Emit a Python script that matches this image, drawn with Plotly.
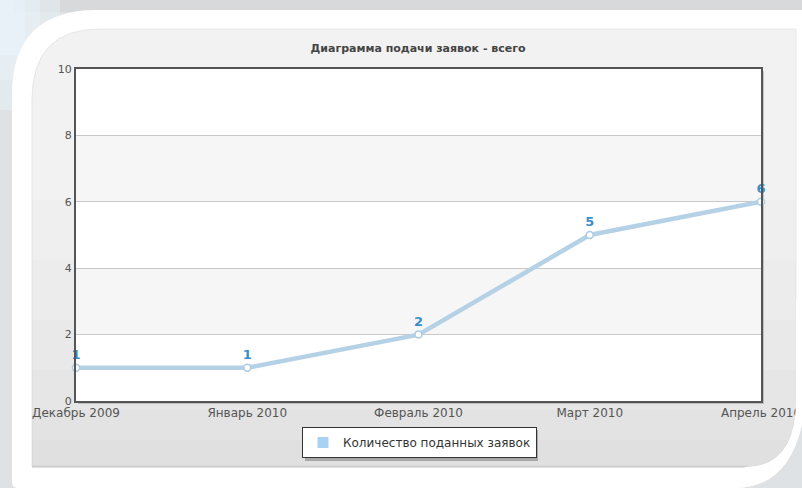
import plotly.graph_objects as go

# ---- data ----
categories = ["Декабрь 2009", "Январь 2010", "Февраль 2010", "Март 2010", "Апрель 2010"]
values = [1, 1, 2, 5, 6]
series_name = "Количество поданных заявок"
title_text = "Диаграмма подачи заявок - всего"
y_ticks = [0, 2, 4, 6, 8, 10]

W, H = 802, 488
L, R, T, B = 76, 41, 69, 87
PW, PH = W - L - R, H - T - B


def px(x):
    return (x - L) / PW


def py(y):
    return (H - B - y) / PH


def rpath(cmds):
    out = []
    for c in cmds:
        op, pts = c[0], c[1:]
        out.append(op + " " + " ".join(f"{px(a):.5f},{py(b):.5f}" for a, b in pts))
    return " ".join(out) + " Z"


shapes = []
# outer top strip / left strip
shapes.append(dict(type="rect", xref="paper", yref="paper", x0=px(0), x1=px(W), y0=py(0), y1=py(12),
                   fillcolor="#d8d9da", line_width=0, layer="below"))
shapes.append(dict(type="rect", xref="paper", yref="paper", x0=px(0), x1=px(14), y0=py(0), y1=py(H),
                   fillcolor="#dfe2e4", line_width=0, layer="below"))
for w_, h_ in [(60, 110), (40, 80), (25, 55)]:
    shapes.append(dict(type="rect", xref="paper", yref="paper", x0=px(0), x1=px(w_), y0=py(0), y1=py(h_),
                       fillcolor="rgba(232,243,250,0.45)", line_width=0, layer="below"))
# white rounded panel
shapes.append(dict(type="path", xref="paper", yref="paper", layer="below", fillcolor="#ffffff", line_width=0,
                   path=rpath([("M", (12, 95)), ("Q", (12, 10), (97, 10)), ("L", (W + 5, 10)),
                               ("L", (W + 5, 390)), ("Q", (800, 488), (735, 488)),
                               ("L", (18, 488)), ("Q", (12, 488), (12, 482))])))
# inner gray panel
inner = [("M", (32, 100)), ("Q", (32, 29), (100, 29)), ("L", (796, 29)),
         ("L", (796, 400)), ("Q", (796, 467), (745, 467)), ("L", (32, 467))]
shapes.append(dict(type="path", xref="paper", yref="paper", layer="below", fillcolor="#f2f2f2",
                   line=dict(color="#e6e6e6", width=1), path=rpath(inner)))
# gradual darkening toward bottom
for ytop in [200, 260, 320, 370, 410, 440]:
    shapes.append(dict(type="path", xref="paper", yref="paper", layer="below",
                       fillcolor="rgba(0,0,0,0.012)", line_width=0,
                       path=rpath([("M", (32, ytop)), ("L", (796, ytop)), ("L", (796, 400)),
                                   ("Q", (796, 467), (745, 467)), ("L", (32, 467))])))
shapes.append(dict(type="line", xref="paper", yref="paper", layer="below",
                   x0=px(32), x1=px(748), y0=py(466.5), y1=py(466.5), line=dict(color="#cfcfcf", width=2)))
# plot area shadow + background
shapes.append(dict(type="rect", xref="paper", yref="paper", layer="below",
                   x0=px(L + 2), x1=px(W - R + 3), y0=py(H - B + 3), y1=py(T + 2),
                   fillcolor="rgba(0,0,0,0.18)", line_width=0))
shapes.append(dict(type="rect", xref="paper", yref="paper", layer="below",
                   x0=0, x1=1, y0=0, y1=1, fillcolor="#ffffff", line_width=0))
# alternating bands
for i in range(len(y_ticks) - 1):
    if i % 2 == 1:
        shapes.append(dict(type="rect", xref="paper", yref="y", layer="below",
                           x0=0, x1=1, y0=y_ticks[i], y1=y_ticks[i + 1],
                           fillcolor="#f6f6f6", line_width=0))
# frame edge clipping the last tick label
shapes.append(dict(type="path", xref="paper", yref="paper", layer="above", fillcolor="#ffffff", line_width=0,
                   path=rpath([("M", (796, 400)), ("Q", (796, 467), (745, 467)), ("L", (735, 488)),
                               ("Q", (800, 488), (W + 5, 390)), ("L", (W + 5, 300)), ("L", (796, 300))])))
# legend shadow
shapes.append(dict(type="rect", xref="paper", yref="paper", layer="below",
                   x0=px(305), x1=px(538), y0=py(461), y1=py(430),
                   fillcolor="rgba(0,0,0,0.25)", line_width=0))

fig = go.Figure()
fig.add_trace(go.Scatter(
    x=categories, y=values, mode="lines+markers+text",
    line=dict(color="#b5d1e6", width=4.5),
    marker=dict(symbol="circle", size=7, color="#ffffff", line=dict(color="#a9cbe4", width=1.5)),
    text=[str(v) for v in values], texttemplate="<b>%{text}</b>", textposition="top center",
    textfont=dict(family="DejaVu Sans", size=13, color="#3a8fc8"),
    showlegend=False, cliponaxis=False, hoverinfo="x+y"))
fig.add_trace(go.Scatter(
    x=[None], y=[None], mode="markers", name=series_name,
    marker=dict(symbol="square", size=11, color="#a9d1f1")))

fig.update_layout(
    width=W, height=H,
    margin=dict(l=L, r=R, t=T, b=B, autoexpand=False),
    paper_bgcolor="#dfe2e4",
    plot_bgcolor="rgba(0,0,0,0)",
    font=dict(family="DejaVu Sans", color="#555555", size=10),
    title=dict(text="<b>" + title_text + "</b>", x=418 / W, xanchor="center",
               y=1 - 48 / H, yanchor="middle", yref="container",
               font=dict(family="DejaVu Sans", size=11, color="#444444")),
    xaxis=dict(type="category", range=[0, len(categories) - 1], showgrid=False, zeroline=False,
               automargin=False,
               showline=True, linecolor="#555555", linewidth=2, mirror=True,
               ticks="", tickfont=dict(size=12, color="#555555")),
    yaxis=dict(range=[0, 10], tickvals=y_ticks, showgrid=True, gridcolor="#c9c9c9", gridwidth=1,
               automargin=False,
               zeroline=False, showline=True, linecolor="#555555", linewidth=2, mirror=True,
               ticks="", tickfont=dict(size=11, color="#555555")),
    legend=dict(orientation="h", x=0.5 + 1 / PW, xanchor="center", y=py(427), yanchor="top",
                bgcolor="#ffffff", bordercolor="#333333", borderwidth=1,
                font=dict(family="DejaVu Sans", size=12, color="#333333")),
    shapes=shapes,
)

fig.write_html("out.html", config={"displayModeBar": False},
               post_script="document.body.style.margin='0';")
